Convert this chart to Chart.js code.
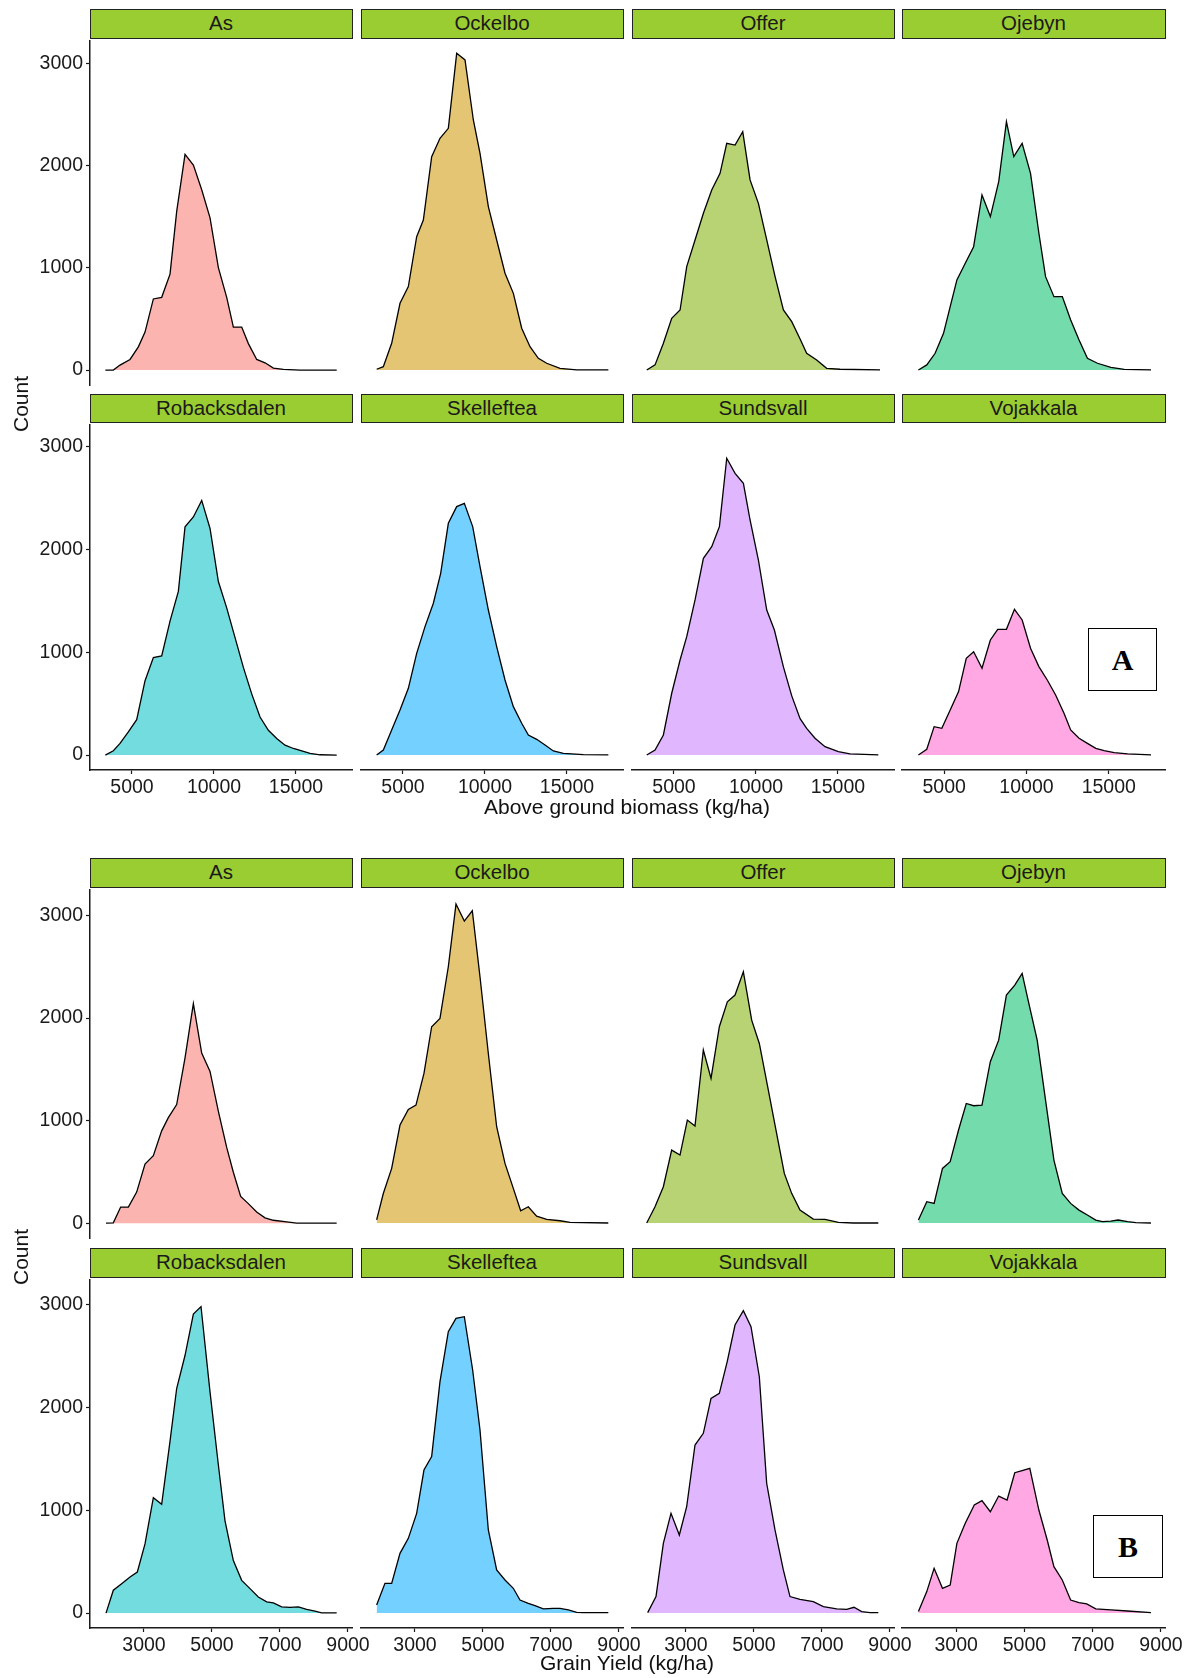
<!DOCTYPE html>
<html><head><meta charset="utf-8">
<script src="https://cdn.jsdelivr.net/npm/chart.js@4.4.0/dist/chart.umd.min.js"></script>
<style>
body{margin:0;background:#fff;}
#wrap{position:relative;width:1193px;height:1678px;background:#fff;overflow:hidden;font-family:"Liberation Sans",Arial,sans-serif;}
#wrap canvas{position:absolute;}
.strip{position:absolute;box-sizing:border-box;background:#9ACD32;border:1.3px solid #222;font-size:20.5px;color:#1a1a1a;display:flex;align-items:center;justify-content:center;line-height:1;}
.ttl{position:absolute;font-size:21px;color:#111;white-space:nowrap;transform:translate(-50%,-50%);}
.lab{position:absolute;box-sizing:border-box;border:1.3px solid #000;background:#fff;font-family:"Liberation Serif","Times New Roman",serif;font-weight:bold;font-size:30px;display:flex;align-items:center;justify-content:center;}
</style></head>
<body><div id="wrap"></div>
<script>
// ---------- categories ----------
const sites = ["As","Ockelbo","Offer","Ojebyn","Robacksdalen","Skelleftea","Sundsvall","Vojakkala"];
const fillColors = ["248,118,109","205,150,0","124,174,0","0,190,103","0,191,196","0,169,255","199,124,255","255,97,204"];
// ---------- tick labels ----------
const ticksA_x = [5000,10000,15000];
const ticksB_x = [3000,5000,7000,9000];
const ticks_y = [0,1000,2000,3000];
const titleA = "Above ground biomass (kg/ha)";
const titleB = "Grain Yield (kg/ha)";
const titleY = "Count";

// ---------- A: Above ground biomass ----------
const A_As_x = [3375,3863,4270,4880,5388,5795,6303,6811,7319,7726,8234,8743,9251,9759,10267,10775,11182,11690,12097,12605,13113,13622,14231,15248,17484];
const A_As_y = [0,0,49,104,227,372,696,712,939,1553,2110,2006,1764,1489,1003,712,421,421,259,104,71,19,7,0,0];
const A_Ockelbo_x = [3394,3801,4309,4818,5326,5834,6241,6749,7257,7765,8274,8782,9290,9697,10205,10713,11221,11730,12238,12746,13254,13763,14576,15592,17524];
const A_Ockelbo_y = [7,32,259,647,809,1294,1456,2071,2249,2346,3074,3010,2427,2103,1586,1262,939,744,405,226,113,65,16,0,0];
const A_Offer_x = [3337,3845,4353,4861,5370,5776,6284,6793,7301,7809,8216,8724,9192,9639,10147,10655,11164,11672,12180,12689,13090,13700,14310,15123,17563];
const A_Offer_y = [0,49,260,502,582,1003,1262,1521,1747,1909,2200,2184,2314,1845,1618,1262,906,583,469,300,162,97,16,7,0];
const A_Ojebyn_x = [3436,3944,4452,4961,5367,5774,6282,6790,7299,7807,8315,8783,9230,9737,10247,10755,11161,11670,12178,12687,13195,13703,14313,15126,15939,17565];
const A_Ojebyn_y = [0,49,162,356,615,874,1036,1197,1699,1489,1828,2411,2071,2200,1909,1327,906,712,712,485,291,113,65,26,6,0];
const A_Robacksdalen_x = [3375,3863,4270,4778,5286,5795,6303,6811,7319,7827,8234,8743,9251,9759,10267,10775,11284,11792,12300,12808,13317,13825,14333,14842,15350,15859,16469,17484];
const A_Robacksdalen_y = [0,42,113,225,344,723,948,964,1302,1591,2218,2314,2475,2202,1687,1431,1141,852,595,370,241,161,96,64,42,16,3,0];
const A_Skelleftea_x = [3394,3801,4309,4818,5326,5834,6342,6851,7298,7765,8274,8741,9250,9697,10205,10713,11221,11730,12238,12645,13153,13661,14169,14779,15999,17524];
const A_Skelleftea_y = [0,48,241,434,643,980,1238,1463,1752,2234,2395,2427,2202,1816,1398,1045,723,466,306,193,151,96,39,16,3,0];
const A_Sundsvall_x = [3337,3845,4353,4861,5370,5776,6284,6793,7301,7769,8216,8724,9232,9639,10147,10655,11122,11672,12180,12689,13090,13599,14209,15022,15733,17461];
const A_Sundsvall_y = [0,48,193,595,916,1141,1495,1896,2009,2202,2861,2716,2620,2266,1880,1398,1205,850,570,350,257,161,80,32,10,0];
const A_Vojakkala_x = [3436,3944,4391,4859,5367,5876,6343,6791,7299,7807,8254,8783,9271,9739,10247,10755,11263,11771,12280,12686,13195,13703,14211,14719,15329,16143,17566];
const A_Vojakkala_y = [0,55,273,257,434,611,932,996,836,1109,1212,1212,1405,1302,1029,852,723,579,402,241,161,112,64,42,22,10,0];

// ---------- B: Grain yield ----------
const B_As_x = [1883,2098,2314,2540,2785,3030,3275,3520,3716,3961,4206,4452,4697,4942,5186,5432,5628,5843,6069,6314,6559,6804,7196,7490,7981,8667];
const B_As_y = [0,3,157,157,303,577,658,900,1029,1157,1609,2141,1658,1480,1093,738,496,261,190,109,51,28,12,0,0,0];
const B_Ockelbo_x = [1872,2068,2314,2559,2804,3029,3264,3490,3735,3980,4206,4451,4686,4912,5157,5402,5647,5892,6108,6333,6578,6872,7265,7559,8686];
const B_Ockelbo_y = [30,286,529,948,1100,1141,1448,1900,1980,2480,3087,2922,3022,2383,1641,932,577,335,119,157,67,35,22,6,0];
const B_Offer_x = [1844,2089,2334,2579,2824,3040,3265,3510,3736,3981,4216,4443,4687,4932,5157,5402,5647,5892,6108,6353,6745,7089,7481,7922,8657];
const B_Offer_y = [0,157,351,706,658,996,938,1674,1400,1900,2141,2206,2432,1964,1738,1319,899,480,287,125,38,35,6,0,0];
const B_Ojebyn_x = [1893,2138,2353,2598,2824,3069,3295,3510,3755,4000,4245,4471,4716,4932,5128,5373,5618,5863,6108,6353,6598,6843,7089,7285,7530,7746,8020,8265,8706];
const B_Ojebyn_y = [29,206,190,528,593,900,1157,1135,1141,1561,1770,2206,2303,2416,2125,1770,1190,609,287,190,125,77,29,13,19,29,13,3,0];
const B_Robacksdalen_x = [1883,2098,2343,2589,2804,3030,3275,3520,3765,3961,4206,4452,4677,4942,5186,5383,5628,5873,6118,6363,6608,6804,7049,7294,7540,7784,8030,8226,8667];
const B_Robacksdalen_y = [0,222,286,350,399,672,1122,1058,1669,2183,2504,2906,2980,2151,1444,897,511,318,238,157,109,100,61,55,61,35,19,3,3];
const B_Skelleftea_x = [1872,2117,2314,2559,2804,3049,3264,3490,3735,3980,4206,4451,4696,4912,5157,5402,5647,5892,6088,6333,6529,6774,7068,7265,7510,7755,7951,8686];
const B_Skelleftea_y = [77,286,286,575,720,961,1379,1508,2231,2713,2842,2858,2344,1765,801,415,318,238,125,93,71,39,45,45,29,6,3,3];
const B_Sundsvall_x = [1873,2118,2334,2559,2804,3020,3265,3510,3736,3981,4216,4442,4687,4912,5157,5373,5618,5863,6059,6353,6745,7040,7432,7726,7941,8167,8412,8657];
const B_Sundsvall_y = [3,158,672,961,752,1025,1620,1733,2070,2119,2430,2778,2916,2762,2279,1251,801,415,158,132,109,61,39,35,55,13,3,3];
const B_Vojakkala_x = [1893,2138,2353,2598,2824,3020,3265,3530,3755,4000,4245,4491,4716,4932,5157,5422,5667,5863,6108,6353,6598,6824,7089,7530,8020,8706];
const B_Vojakkala_y = [13,206,431,238,270,672,865,1042,1083,977,1128,1090,1353,1373,1395,993,704,447,318,125,100,87,39,29,19,3];

const seriesA = [[A_As_x,A_As_y],[A_Ockelbo_x,A_Ockelbo_y],[A_Offer_x,A_Offer_y],[A_Ojebyn_x,A_Ojebyn_y],
                 [A_Robacksdalen_x,A_Robacksdalen_y],[A_Skelleftea_x,A_Skelleftea_y],[A_Sundsvall_x,A_Sundsvall_y],[A_Vojakkala_x,A_Vojakkala_y]];
const seriesB = [[B_As_x,B_As_y],[B_Ockelbo_x,B_Ockelbo_y],[B_Offer_x,B_Offer_y],[B_Ojebyn_x,B_Ojebyn_y],
                 [B_Robacksdalen_x,B_Robacksdalen_y],[B_Skelleftea_x,B_Skelleftea_y],[B_Sundsvall_x,B_Sundsvall_y],[B_Vojakkala_x,B_Vojakkala_y]];

// ---------- layout ----------
const colL = [90,361,632,902];
const colR = [352,623,894,1165];
const figures = [
  {series: seriesA, xmin: 2439, xmax: 18416, xticks: ticksA_x,
   rows: [{stripTop: 9, top: 38, bottom: 385, ymin: -146, ymax: 3223},
          {stripTop: 394, top: 422, bottom: 770, ymin: -145, ymax: 3211}],
   title: titleA, titleY: 807, countY: 404, box: {l:1088, t:628, w:69, h:63, txt:"A"}},
  {series: seriesB, xmin: 1412, xmax: 9118, xticks: ticksB_x,
   rows: [{stripTop: 858, top: 887, bottom: 1238, ymin: -145, ymax: 3252},
          {stripTop: 1248, top: 1277, bottom: 1628, ymin: -145, ymax: 3241}],
   title: titleB, titleY: 1663, countY: 1257, box: {l:1093, t:1515, w:70, h:63, txt:"B"}}
];

const wrap = document.getElementById('wrap');
const PADL = 75, PADR = 45, PADT = 12, PADB = 45;
const TXT = '#1a1a1a';

function addDiv(cls, text, style) {
  const d = document.createElement('div');
  d.className = cls; d.textContent = text;
  Object.assign(d.style, style);
  wrap.appendChild(d);
  return d;
}

figures.forEach(fig => {
  fig.rows.forEach((row, r) => {
    for (let c = 0; c < 4; c++) {
      const k = r * 4 + c;
      const L = colL[c], R = colR[c];
      addDiv('strip', sites[k], {left: (L - 0.5) + 'px', top: (row.stripTop - 0.5) + 'px',
        width: (R - L + 1) + 'px', height: (row.top - row.stripTop + 1) + 'px'});
      const showY = c === 0, showX = r === 1;
      const cv = document.createElement('canvas');
      const w = (R - L) + PADL + PADR, h = (row.bottom - row.top) + PADT + PADB;
      cv.width = w; cv.height = h;
      cv.style.left = (L - PADL) + 'px'; cv.style.top = (row.top - PADT) + 'px';
      cv.style.width = w + 'px'; cv.style.height = h + 'px';
      wrap.appendChild(cv);
      const [xs, ys] = fig.series[k];
      const axisCommon = {
        border: {display: true, color: TXT, width: 1.5},
        grid: {display: true, drawOnChartArea: false, drawTicks: true, tickLength: 4, tickColor: TXT, tickWidth: 1.2},
      };
      new Chart(cv, {
        type: 'line',
        data: {datasets: [{
          data: xs.map((v, i) => ({x: v, y: ys[i]})),
          borderColor: '#000', borderWidth: 1.3,
          backgroundColor: 'rgba(' + fillColors[k] + ',0.55)',
          fill: 'origin', pointRadius: 0, tension: 0
        }]},
        options: {
          responsive: false, animation: false, devicePixelRatio: 1,
          layout: {padding: {left: 0, right: PADR, top: PADT, bottom: 0}},
          plugins: {legend: {display: false}, tooltip: {enabled: false}},
          scales: {
            x: Object.assign({}, axisCommon, {
              type: 'linear', display: showX, min: fig.xmin, max: fig.xmax,
              afterBuildTicks: ax => { ax.ticks = fig.xticks.map(v => ({value: v})); },
              afterFit: s => { s.height = PADB; },
              ticks: {autoSkip: false, maxRotation: 0, minRotation: 0, padding: 2, color: TXT,
                      font: {family: 'Liberation Sans', size: 19.5}, callback: v => String(v)}
            }),
            y: Object.assign({}, axisCommon, {
              type: 'linear', display: showY, min: row.ymin, max: row.ymax,
              afterBuildTicks: ax => { ax.ticks = ticks_y.map(v => ({value: v})); },
              afterFit: s => { s.width = PADL; },
              ticks: {autoSkip: false, padding: 3, color: TXT,
                      font: {family: 'Liberation Sans', size: 19.5}, callback: v => String(v)}
            })
          }
        }
      });
    }
  });
  addDiv('ttl', fig.title, {left: '627px', top: fig.titleY + 'px'});
  addDiv('ttl', titleY, {left: '21px', top: fig.countY + 'px', transform: 'translate(-50%,-50%) rotate(-90deg)'});
  addDiv('lab', fig.box.txt, {left: fig.box.l + 'px', top: fig.box.t + 'px', width: fig.box.w + 'px', height: fig.box.h + 'px'});
});
</script>
</body></html>
